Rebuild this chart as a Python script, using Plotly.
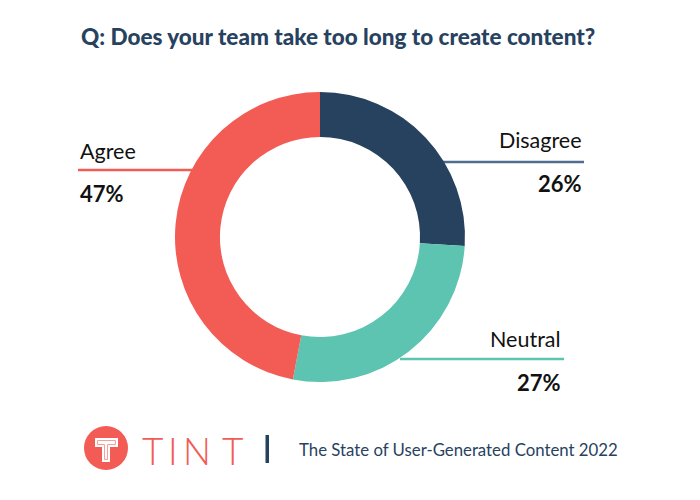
import plotly.graph_objects as go

# ---- data ----
labels = ["Disagree", "Neutral", "Agree"]
values = [26, 27, 47]
colors = ["#27425F", "#5CC4B0", "#F25C54"]
line_colors = ["#4F6D8F", "#5CC4B0", "#F25C54"]
title_text = "Q: Does your team take too long to create content?"
footer_text = "The State of User-Generated Content 2022"
brand_letters = ["T", "I", "N", "T"]

W, H = 700, 500
OFF = 8  # page offset of the figure inside the browser window
def px(x):
    return (x - OFF) / W
def py(y):
    return 1 - (y - OFF) / H

NAVY = "#27425F"
CORAL = "#F25C54"

fig = go.Figure()
fig.add_trace(go.Pie(
    labels=labels, values=values, hole=0.69, sort=False,
    direction="clockwise", rotation=0,
    marker=dict(colors=colors, line=dict(width=0)),
    textinfo="none", hoverinfo="label+percent", showlegend=False,
    domain=dict(x=[px(175), px(465)], y=[py(382), py(92)]),
))

shapes = []
annotations = []

label_pos = {
    "Agree":    dict(x=78,  xanchor="left",  ly=151, py_=193, line_y=170, lx0=78,  lx1=230),
    "Disagree": dict(x=584, xanchor="right", ly=140, py_=183, line_y=162, lx0=420, lx1=584),
    "Neutral":  dict(x=563, xanchor="right", ly=339, py_=382, line_y=359, lx0=400, lx1=564),
}
for lab, val, lc in zip(labels, values, line_colors):
    p = label_pos[lab]
    shapes.append(dict(type="line", xref="paper", yref="paper", layer="below",
                       x0=px(p["lx0"]), x1=px(p["lx1"]), y0=py(p["line_y"]), y1=py(p["line_y"]),
                       line=dict(color=lc, width=2.5)))
    annotations.append(dict(text=lab, x=px(p["x"]), y=py(p["ly"]), xref="paper", yref="paper",
                            xanchor=p["xanchor"], yanchor="middle", showarrow=False,
                            font=dict(family="Lato", size=21.5, color="#111111")))
    annotations.append(dict(text=f"<b>{val}%</b>", x=px(p["x"]), y=py(p["py_"]), xref="paper", yref="paper",
                            xanchor=p["xanchor"], yanchor="middle", showarrow=False,
                            font=dict(family="Lato", size=22, color="#111111", weight=900)))

# title
annotations.append(dict(text=title_text, x=px(338), y=py(36), xref="paper", yref="paper",
                        xanchor="center", yanchor="middle", showarrow=False,
                        font=dict(family="Lato", size=22.5, color=NAVY, weight=900)))

# logo circle
shapes.append(dict(type="circle", xref="paper", yref="paper",
                   x0=px(84), x1=px(128), y0=py(470), y1=py(426),
                   fillcolor=CORAL, line=dict(width=0)))
def path(pts):
    return "M " + " L ".join(f"{px(x)} {py(y)}" for x, y in pts) + " Z"
shapes.append(dict(type="path", xref="paper", yref="paper",
                   path=path([(95, 438), (118, 438), (118, 447), (110, 447), (110, 462), (102, 462), (102, 447), (95, 447)]),
                   fillcolor="white", line=dict(width=0)))
shapes.append(dict(type="path", xref="paper", yref="paper",
                   path=path([(97.5, 440.5), (115.5, 440.5), (115.5, 444.5), (107.5, 444.5), (107.5, 459.5), (104.5, 459.5), (104.5, 444.5), (97.5, 444.5)]),
                   fillcolor="rgba(0,0,0,0)", line=dict(color="#F7A09A", width=1)))

# brand letters
for ch, cx in zip(brand_letters, [152, 173, 197, 232]):
    annotations.append(dict(text=ch, x=px(cx), y=py(450), xref="paper", yref="paper",
                            xanchor="center", yanchor="middle", showarrow=False,
                            font=dict(family="Lato", size=37, color=CORAL, weight=300)))
# separator bar
shapes.append(dict(type="rect", xref="paper", yref="paper",
                   x0=px(265.5), x1=px(269), y0=py(463), y1=py(435),
                   fillcolor=NAVY, line=dict(width=0)))
annotations.append(dict(text=footer_text, x=px(297), y=py(449), xref="paper", yref="paper",
                        xanchor="left", yanchor="middle", showarrow=False,
                        font=dict(family="Lato", size=16.8, color=NAVY)))

fig.update_layout(width=W, height=H, margin=dict(l=0, r=0, t=0, b=0),
                  paper_bgcolor="white", plot_bgcolor="white",
                  shapes=shapes, annotations=annotations)
fig.write_html("out.html")
